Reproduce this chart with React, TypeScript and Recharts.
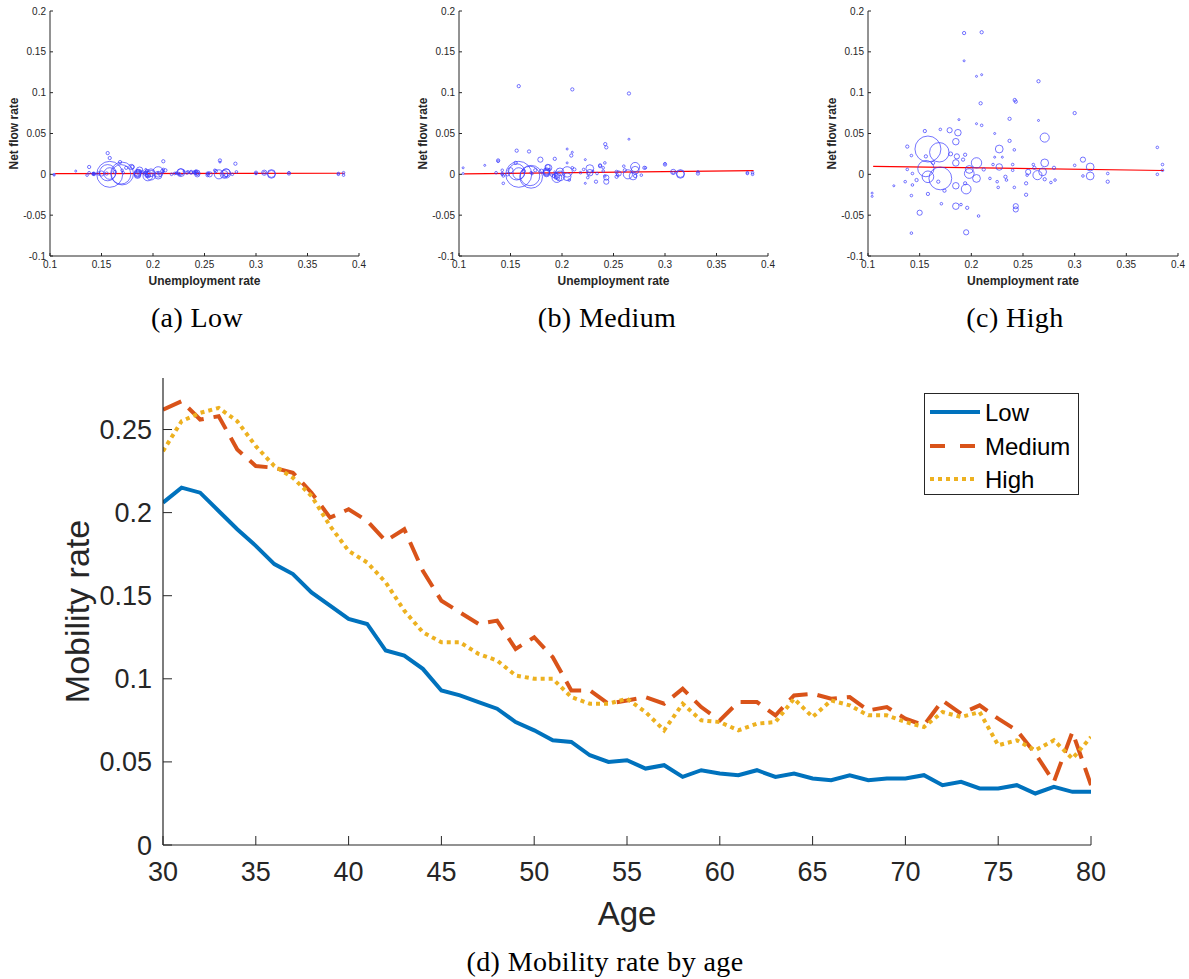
import React from 'react';
import {
  ScatterChart, Scatter, XAxis, YAxis, ZAxis, ReferenceLine,
  LineChart, Line, Legend,
} from 'recharts';

// ---------- Scatter panels (regions) ----------
const unempRate = [
  0.193, 0.210, 0.193, 0.210, 0.205, 0.265, 0.209, 0.242, 0.243, 0.300,
  0.237, 0.188, 0.265, 0.205, 0.210, 0.170, 0.155, 0.179, 0.187, 0.2226,
  0.271, 0.185, 0.237, 0.138, 0.380, 0.158, 0.169, 0.227, 0.2416, 0.180,
  0.194, 0.142, 0.186, 0.230, 0.2226, 0.308, 0.192, 0.156, 0.271, 0.205,
  0.185, 0.385, 0.163, 0.221, 0.260, 0.240, 0.300, 0.227, 0.315, 0.156,
  0.280, 0.261, 0.198, 0.212, 0.138, 0.240, 0.269, 0.385, 0.255, 0.143,
  0.332, 0.380, 0.198, 0.264, 0.158, 0.308, 0.315, 0.254, 0.170, 0.205,
  0.233, 0.271, 0.147, 0.218, 0.234, 0.281, 0.332, 0.168, 0.225, 0.194,
  0.253, 0.277, 0.136, 0.125, 0.143, 0.185, 0.195, 0.174, 0.158, 0.226,
  0.2416, 0.104, 0.104, 0.142, 0.253, 0.171, 0.190, 0.185, 0.196, 0.243,
  0.243, 0.150, 0.207, 0.142, 0.195,
];
const popWeight = [
  1.6, 1.6, 0.6, 0.6, 0.6, 1.6, 1.6, 1.6, 1.6, 1.6,
  1.6, 0.6, 0.6, 0.6, 1, 1, 1.6, 4, 6.3, 0.6,
  12.3, 6.3, 1.6, 1.6, 1, 100, 56, 9, 1, 2.3,
  1.6, 1, 4, 0.6, 0.6, 4, 1.6, 1.6, 9, 16,
  6.3, 1, 1.6, 1, 1, 1, 1, 6.3, 9, 39,
  1.6, 1.6, 9, 1.6, 1, 1, 9, 1, 4, 1,
  1, 1, 14, 12.3, 20, 1, 9, 1, 77, 9,
  1.6, 1.6, 1.6, 1, 1, 1, 1.6, 1.6, 1, 1.6,
  1.6, 1, 1, 0.6, 1, 6.3, 14, 1.6, 1.6, 1,
  1, 0.6, 0.6, 1, 1.6, 1, 1, 6.3, 1.6, 4,
  4, 4, 1, 1, 4,
];
const flowLow = [
  0.002, 0.016, 0.006, 0.003, 0.002, 0.017, 0.004, 0.003, 0.001, 0.002,
  0.002, 0.004, 0.015, 0.001, 0.006, 0.005, 0.001, 0.009, 0.005, 0.001,
  0.001, 0.002, 0.003, 0.009, 0.001, 0.000, 0.000, 0.002, 0.004, 0.009,
  0.004, 0.001, 0.003, 0.004, 0.002, 0.002, 0.001, 0.026, 0.002, 0.003,
  -0.001, 0.002, 0.003, 0.001, 0.005, 0.002, 0.001, 0.003, 0.000, 0.002,
  0.013, 0.004, 0.002, 0.005, 0.002, 0.003, 0.000, -0.001, 0.000, 0.000,
  0.002, 0.000, -0.001, 0.000, 0.001, 0.002, 0.001, 0.001, 0.001, -0.001,
  0.002, -0.001, 0.001, 0.000, 0.003, 0.003, 0.001, 0.015, 0.001, -0.002,
  -0.001, 0.000, -0.001, 0.004, 0.001, 0.000, -0.002, 0.008, 0.020, 0.000,
  0.001, 0.000, -0.001, 0.001, 0.001, 0.002, 0.003, 0.001, -0.002, 0.002,
  0.000, 0.001, -0.001, 0.000, 0.000,
];
const flowMedium = [
  0.019, 0.104, 0.003, 0.027, 0.031, 0.099, 0.023, 0.037, 0.033, 0.012,
  0.011, 0.006, 0.043, 0.014, 0.008, 0.002, 0.014, 0.018, 0.008, 0.018,
  0.009, 0.004, 0.010, 0.017, 0.002, 0.000, -0.002, 0.007, 0.014, 0.004,
  0.000, 0.005, 0.009, 0.004, -0.011, 0.003, -0.002, 0.029, 0.005, 0.003,
  0.001, 0.002, 0.004, 0.006, 0.010, 0.008, 0.013, 0.002, 0.000, 0.003,
  0.008, 0.005, 0.003, 0.006, 0.016, 0.004, -0.002, 0.000, 0.001, -0.011,
  0.003, 0.001, -0.002, 0.000, 0.001, 0.002, 0.001, -0.001, -0.003, -0.003,
  -0.009, -0.002, 0.000, 0.002, 0.001, 0.008, 0.001, 0.028, -0.004, -0.004,
  -0.003, -0.001, 0.002, 0.011, -0.002, 0.002, -0.004, 0.005, 0.108, 0.001,
  -0.002, 0.008, 0.001, 0.000, 0.003, 0.001, -0.001, 0.003, -0.005, -0.009,
  -0.004, 0.005, -0.007, 0.001, -0.002,
];
const flowHigh = [
  0.173, 0.174, 0.139, 0.122, 0.120, 0.114, 0.087, 0.091, 0.089, 0.075,
  0.068, 0.067, 0.066, 0.062, 0.060, 0.055, 0.053, 0.054, 0.051, 0.050,
  0.045, 0.040, 0.041, 0.034, 0.033, 0.031, 0.027, 0.031, 0.030, 0.025,
  0.024, 0.023, 0.022, 0.021, 0.021, 0.018, 0.018, 0.022, 0.014, 0.014,
  0.014, 0.012, 0.014, 0.012, 0.012, 0.012, 0.011, 0.009, 0.009, 0.007,
  0.008, 0.008, 0.006, 0.006, 0.006, 0.005, 0.003, 0.005, 0.003, 0.001,
  0.001, 0.000, 0.001, -0.001, -0.003, -0.002, -0.002, -0.001, -0.005, -0.005,
  -0.003, -0.006, -0.007, -0.005, -0.007, -0.007, -0.009, -0.009, -0.009, -0.011,
  -0.011, -0.010, -0.009, -0.014, -0.013, -0.014, -0.018, -0.020, -0.024, -0.016,
  -0.016, -0.023, -0.027, -0.026, -0.025, -0.036, -0.037, -0.039, -0.041, -0.039,
  -0.043, -0.047, -0.051, -0.072, -0.071,
];
const fitLow = [{ x: 0.105, y: 0.0008 }, { x: 0.386, y: 0.0013 }];
const fitMedium = [{ x: 0.105, y: 0.0006 }, { x: 0.386, y: 0.0045 }];
const fitHigh = [{ x: 0.105, y: 0.0097 }, { x: 0.386, y: 0.0047 }];
const scatterXTicks = [0.1, 0.15, 0.2, 0.25, 0.3, 0.35, 0.4];
const scatterYTicks = [-0.1, -0.05, 0, 0.05, 0.1, 0.15, 0.2];

// ---------- Mobility by age ----------
const ages = [
  30, 31, 32, 33, 34, 35, 36, 37, 38, 39, 40, 41, 42, 43, 44, 45, 46, 47, 48, 49,
  50, 51, 52, 53, 54, 55, 56, 57, 58, 59, 60, 61, 62, 63, 64, 65, 66, 67, 68, 69,
  70, 71, 72, 73, 74, 75, 76, 77, 78, 79, 80,
];
const mobLow = [
  0.206, 0.215, 0.212, 0.201, 0.190, 0.180, 0.169, 0.163, 0.152, 0.144,
  0.136, 0.133, 0.117, 0.114, 0.106, 0.093, 0.090, 0.086, 0.082, 0.074,
  0.069, 0.063, 0.062, 0.054, 0.050, 0.051, 0.046, 0.048, 0.041, 0.045,
  0.043, 0.042, 0.045, 0.041, 0.043, 0.040, 0.039, 0.042, 0.039, 0.040,
  0.040, 0.042, 0.036, 0.038, 0.034, 0.034, 0.036, 0.031, 0.035, 0.032,
  0.032,
];
const mobMedium = [
  0.262, 0.267, 0.256, 0.258, 0.238, 0.228, 0.227, 0.224, 0.212, 0.197,
  0.202, 0.195, 0.183, 0.190, 0.165, 0.147, 0.140, 0.133, 0.135, 0.118,
  0.125, 0.113, 0.093, 0.093, 0.085, 0.087, 0.089, 0.085, 0.094, 0.083,
  0.075, 0.086, 0.086, 0.078, 0.090, 0.091, 0.088, 0.089, 0.081, 0.083,
  0.076, 0.072, 0.087, 0.079, 0.084, 0.076, 0.069, 0.055, 0.038, 0.068,
  0.036,
];
const mobHigh = [
  0.237, 0.255, 0.260, 0.263, 0.255, 0.240, 0.228, 0.221, 0.210, 0.192,
  0.177, 0.170, 0.158, 0.141, 0.128, 0.122, 0.122, 0.115, 0.111, 0.102,
  0.100, 0.100, 0.089, 0.085, 0.085, 0.088, 0.080, 0.069, 0.085, 0.075,
  0.074, 0.069, 0.073, 0.074, 0.088, 0.077, 0.087, 0.084, 0.078, 0.078,
  0.074, 0.071, 0.080, 0.077, 0.080, 0.060, 0.063, 0.057, 0.063, 0.052,
  0.065,
];
const ageTicks = [30, 35, 40, 45, 50, 55, 60, 65, 70, 75, 80];
const mobTicks = [0, 0.05, 0.1, 0.15, 0.2, 0.25];
const seriesNames = ['Low', 'Medium', 'High'];

const SANS = '"Liberation Sans", Arial, Helvetica, sans-serif';
const SERIF = '"Liberation Serif", "Times New Roman", serif';
const AX = '#262626';
const BLUE = '#0072BD';
const ORANGE = '#D95319';
const YELLOW = '#EDB120';

const fmt = (v: number) => String(+v.toFixed(3));

const Bubble = (p: any) => {
  const r = p.width ? p.width / 2 : Math.sqrt((p.size || 20) / Math.PI);
  return <circle cx={p.cx} cy={p.cy} r={r} fill="none" stroke="#3a3aff" strokeWidth={0.7} />;
};

function Panel(props: { left: number; width: number; right: number; flows: number[]; fit: { x: number; y: number }[] }) {
  const data = unempRate.map((x, i) => ({ x, y: props.flows[i], w: popWeight[i] }));
  return (
    <div style={{ position: 'absolute', left: props.left, top: 0, width: props.width, height: 300 }}>
      <ScatterChart width={props.width} height={300} margin={{ top: 11, right: props.right, bottom: 0, left: 0 }}>
        <XAxis
          type="number" dataKey="x" domain={[0.1, 0.4]} ticks={scatterXTicks} tickFormatter={fmt}
          height={44} tickSize={-3} tickMargin={8} allowDataOverflow
          axisLine={{ stroke: AX }} tickLine={{ stroke: AX }}
          tick={{ fill: AX, fontSize: 10, fontFamily: SANS }}
          label={{ value: 'Unemployment rate', position: 'center', dy: 3, fill: AX, fontSize: 12, fontWeight: 'bold', fontFamily: SANS }}
        />
        <YAxis
          type="number" dataKey="y" domain={[-0.1, 0.2]} ticks={scatterYTicks} tickFormatter={fmt}
          width={50} tickSize={-3} tickMargin={7} allowDataOverflow
          axisLine={{ stroke: AX }} tickLine={{ stroke: AX }}
          tick={{ fill: AX, fontSize: 10, fontFamily: SANS }}
          label={{ value: 'Net flow rate', angle: -90, position: 'center', dx: -11, fill: AX, fontSize: 12, fontWeight: 'bold', fontFamily: SANS }}
        />
        <ZAxis type="number" dataKey="w" domain={[0, 100]} range={[0, 530]} />
        <Scatter data={data} shape={Bubble} isAnimationActive={false} />
        <ReferenceLine segment={props.fit} stroke="#ff0000" strokeWidth={1.2} ifOverflow="visible" />
      </ScatterChart>
    </div>
  );
}

const Caption = (p: { cx: number; top: number; text: string }) => (
  <div style={{
    position: 'absolute', left: p.cx - 250, width: 500, top: p.top, textAlign: 'center',
    fontFamily: SERIF, fontSize: 28, letterSpacing: 0.4, color: '#000', lineHeight: '32px',
  }}>{p.text}</div>
);

const LegendBox = () => (
  <svg width={156} height={103} style={{ display: 'block' }}>
    <rect x={0.5} y={0.5} width={154} height={101} fill="#fff" stroke={AX} strokeWidth={1} />
    <line x1={6} x2={56} y1={19} y2={19} stroke={BLUE} strokeWidth={4} />
    <line x1={6} x2={54} y1={53} y2={53} stroke={ORANGE} strokeWidth={4} strokeDasharray="15 15" />
    <line x1={6} x2={54} y1={86} y2={86} stroke={YELLOW} strokeWidth={4} strokeDasharray="4 4" />
    {seriesNames.map((n, i) => (
      <text key={n} x={61} y={[19, 53, 86][i] + 8.5} fontSize={24} fontFamily={SANS} fill="#000">{n}</text>
    ))}
  </svg>
);

export default function App() {
  const mobData = ages.map((a, i) => ({ age: a, low: mobLow[i], medium: mobMedium[i], high: mobHigh[i] }));
  return (
    <div style={{ position: 'absolute', left: 0, top: 0, width: 1189, height: 979, background: '#fff' }}>
      <Panel left={0} width={380} right={21} flows={flowLow} fit={fitLow} />
      <Panel left={409} width={380} right={21} flows={flowMedium} fit={fitMedium} />
      <Panel left={818} width={371} right={11} flows={flowHigh} fit={fitHigh} />
      <Caption cx={197} top={302} text="(a) Low" />
      <Caption cx={607} top={302} text="(b) Medium" />
      <Caption cx={1015} top={302} text="(c) High" />

      <div style={{ position: 'absolute', left: 0, top: 370, width: 1189, height: 570 }}>
        <LineChart width={1189} height={570} data={mobData} margin={{ top: 8, right: 98, bottom: 0, left: 0 }}>
          <XAxis
            type="number" dataKey="age" domain={[30, 80]} ticks={ageTicks} height={95}
            tickSize={-9} tickMargin={26} allowDataOverflow
            axisLine={{ stroke: AX, strokeWidth: 1.2 }} tickLine={{ stroke: AX }}
            tick={{ fill: AX, fontSize: 27, fontFamily: SANS }}
            label={{ value: 'Age', position: 'center', dy: 21, fill: AX, fontSize: 33, fontFamily: SANS }}
          />
          <YAxis
            type="number" domain={[0, 0.281]} ticks={mobTicks} tickFormatter={fmt} width={163}
            tickSize={-9} tickMargin={20} allowDataOverflow
            axisLine={{ stroke: AX, strokeWidth: 1.2 }} tickLine={{ stroke: AX }}
            tick={{ fill: AX, fontSize: 27, fontFamily: SANS }}
            label={{ value: 'Mobility rate', angle: -90, position: 'center', dx: -5, fill: AX, fontSize: 34, fontFamily: SANS }}
          />
          <Legend
            layout="vertical" align="center" verticalAlign="middle"
            content={() => <LegendBox />}
            wrapperStyle={{ left: 924, top: 23, width: 156, height: 103, right: 'auto', bottom: 'auto' }}
          />
          <Line dataKey="low" name="Low" stroke={BLUE} strokeWidth={4} dot={false} isAnimationActive={false} />
          <Line dataKey="medium" name="Medium" stroke={ORANGE} strokeWidth={4} strokeDasharray="20 10" dot={false} isAnimationActive={false} />
          <Line dataKey="high" name="High" stroke={YELLOW} strokeWidth={4} strokeDasharray="4 4" dot={false} isAnimationActive={false} />
        </LineChart>
      </div>
      <Caption cx={605} top={946} text="(d) Mobility rate by age" />
    </div>
  );
}
